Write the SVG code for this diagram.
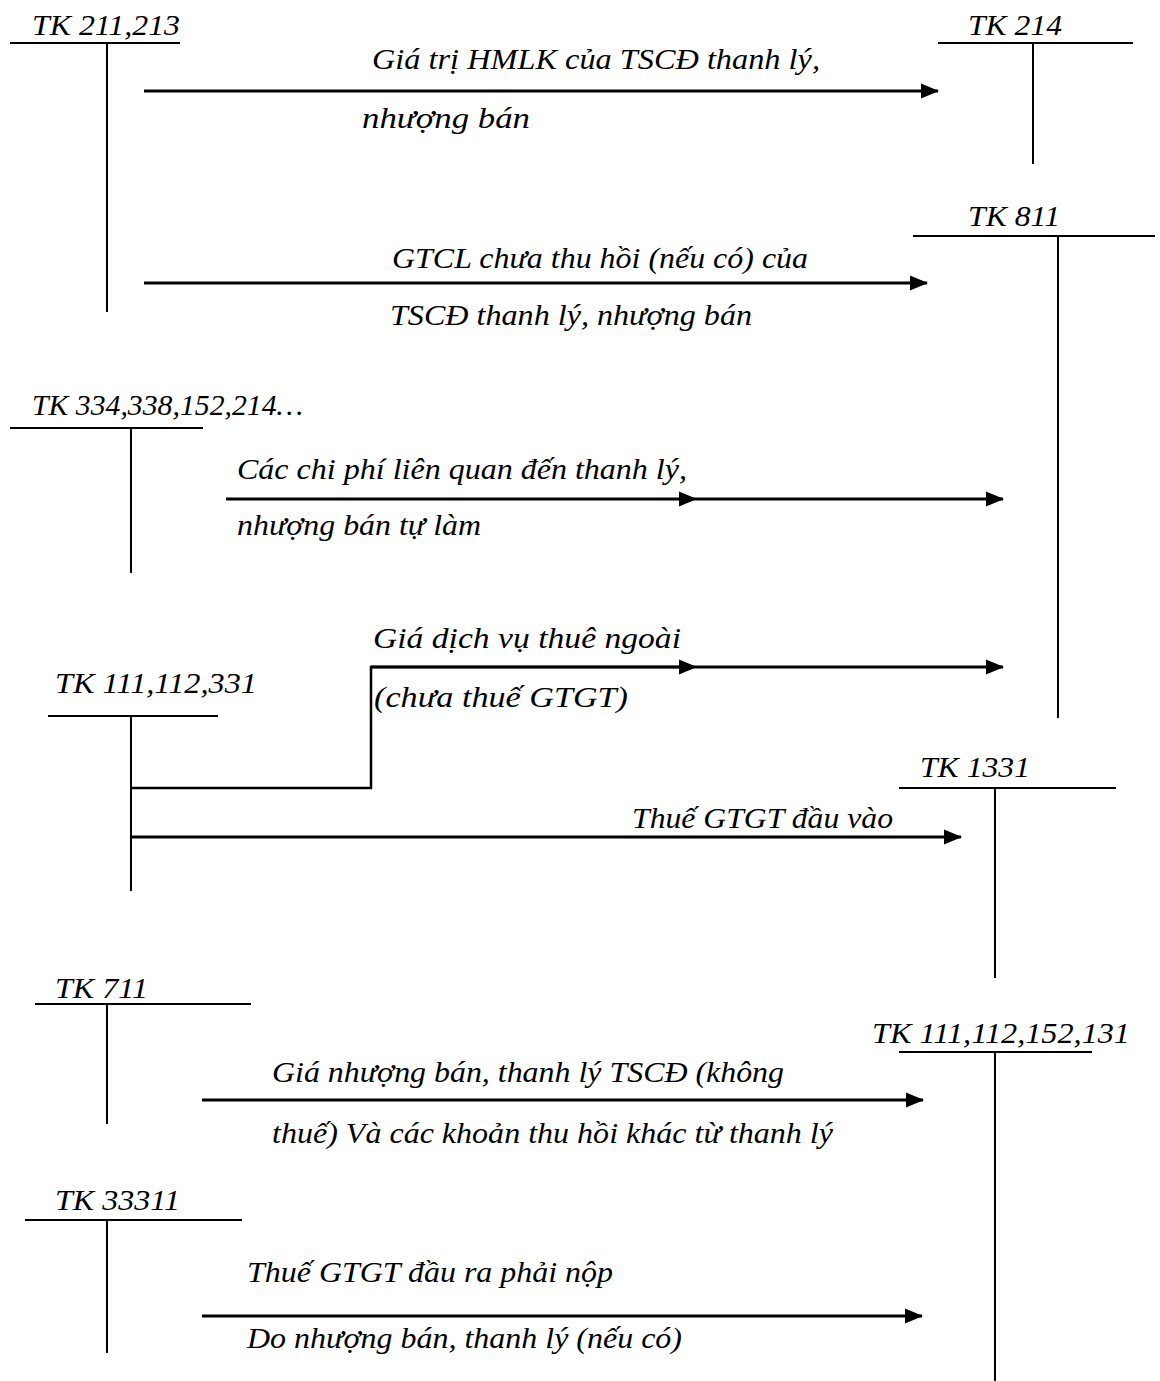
<svg xmlns="http://www.w3.org/2000/svg" width="1160" height="1381" viewBox="0 0 1160 1381">
<style>
text{font-family:"Liberation Serif","Times New Roman",serif;font-style:italic;font-size:30px;fill:#000}
.t{stroke:#000;stroke-width:2;fill:none}
.c{stroke:#000;stroke-width:2.5;fill:none}
.a{stroke:#000;stroke-width:3;fill:none;marker-end:url(#ah)}
</style>
<defs>
<marker id="ah" markerUnits="userSpaceOnUse" markerWidth="18" markerHeight="18" viewBox="0 0 18 18" refX="17" refY="9" orient="auto">
<polygon points="0,1.5 18,9 0,16.5" fill="#000"/>
</marker>
</defs>
<rect width="1160" height="1381" fill="#fff"/>
<g id="tk211">
<text x="32" y="35" textLength="148" lengthAdjust="spacingAndGlyphs">TK 211,213</text>
<line class="t" x1="10" y1="43" x2="180" y2="43"/>
<line class="t" x1="107" y1="43" x2="107" y2="312"/>
</g>
<g id="tk214">
<text x="968" y="35" textLength="94" lengthAdjust="spacingAndGlyphs">TK 214</text>
<line class="t" x1="938" y1="43" x2="1133" y2="43"/>
<line class="t" x1="1033" y1="43" x2="1033" y2="164"/>
</g>
<g id="tk811">
<text x="968" y="226" textLength="92" lengthAdjust="spacingAndGlyphs">TK 811</text>
<line class="t" x1="913" y1="236" x2="1155" y2="236"/>
<line class="t" x1="1058" y1="236" x2="1058" y2="718"/>
</g>
<g id="tk334">
<text x="32" y="415" textLength="271" lengthAdjust="spacingAndGlyphs">TK 334,338,152,214…</text>
<line class="t" x1="10" y1="428" x2="203" y2="428"/>
<line class="t" x1="131" y1="428" x2="131" y2="573"/>
</g>
<g id="tk111a">
<text x="55" y="693" textLength="202" lengthAdjust="spacingAndGlyphs">TK 111,112,331</text>
<line class="t" x1="48" y1="716" x2="218" y2="716"/>
<line class="t" x1="131" y1="716" x2="131" y2="891"/>
</g>
<g id="tk1331">
<text x="920" y="777" textLength="110" lengthAdjust="spacingAndGlyphs">TK 1331</text>
<line class="t" x1="899" y1="788" x2="1116" y2="788"/>
<line class="t" x1="995" y1="788" x2="995" y2="978"/>
</g>
<g id="tk711">
<text x="55" y="998" textLength="93" lengthAdjust="spacingAndGlyphs">TK 711</text>
<line class="t" x1="35" y1="1004" x2="251" y2="1004"/>
<line class="t" x1="107" y1="1004" x2="107" y2="1124"/>
</g>
<g id="tk111b">
<text x="872" y="1043" textLength="258" lengthAdjust="spacingAndGlyphs">TK 111,112,152,131</text>
<line class="t" x1="899" y1="1052" x2="1092" y2="1052"/>
<line class="t" x1="995" y1="1052" x2="995" y2="1381"/>
</g>
<g id="tk33311">
<text x="55" y="1210" textLength="125" lengthAdjust="spacingAndGlyphs">TK 33311</text>
<line class="t" x1="25" y1="1220" x2="242" y2="1220"/>
<line class="t" x1="107" y1="1220" x2="107" y2="1353"/>
</g>
<g id="connectors">
<line class="a" x1="144" y1="91" x2="938" y2="91"/>
<line class="a" x1="144" y1="283" x2="927" y2="283"/>
<line class="a" x1="226" y1="499" x2="696" y2="499"/>
<line class="a" x1="696" y1="499" x2="1003" y2="499"/>
<polyline class="c" points="131,788 371,788 371,667 682,667"/>
<line class="a" x1="371" y1="667" x2="696" y2="667"/>
<line class="a" x1="696" y1="667" x2="1003" y2="667"/>
<line class="a" x1="131" y1="837" x2="961" y2="837"/>
<line class="a" x1="202" y1="1100" x2="923" y2="1100"/>
<line class="a" x1="202" y1="1316" x2="922" y2="1316"/>
</g>
<g id="labels">
<text x="372" y="69" textLength="448" lengthAdjust="spacingAndGlyphs">Giá trị HMLK của TSCĐ thanh lý,</text>
<text x="362" y="128" textLength="168" lengthAdjust="spacingAndGlyphs">nhượng bán</text>
<text x="392" y="268" textLength="416" lengthAdjust="spacingAndGlyphs">GTCL chưa thu hồi (nếu có) của</text>
<text x="390" y="325" textLength="362" lengthAdjust="spacingAndGlyphs">TSCĐ thanh lý, nhượng bán</text>
<text x="237" y="479" textLength="450" lengthAdjust="spacingAndGlyphs">Các chi phí liên quan đến thanh lý,</text>
<text x="237" y="535" textLength="244" lengthAdjust="spacingAndGlyphs">nhượng bán tự làm</text>
<text x="373" y="648" textLength="308" lengthAdjust="spacingAndGlyphs">Giá dịch vụ thuê ngoài</text>
<text x="374" y="707" textLength="254" lengthAdjust="spacingAndGlyphs">(chưa thuế GTGT)</text>
<text x="632" y="828" textLength="261" lengthAdjust="spacingAndGlyphs">Thuế GTGT đầu vào</text>
<text x="272" y="1082" textLength="512" lengthAdjust="spacingAndGlyphs">Giá nhượng bán, thanh lý TSCĐ (không</text>
<text x="272" y="1143" textLength="561" lengthAdjust="spacingAndGlyphs">thuế) Và các khoản thu hồi khác từ thanh lý</text>
<text x="247" y="1282" textLength="366" lengthAdjust="spacingAndGlyphs">Thuế GTGT đầu ra phải nộp</text>
<text x="247" y="1348" textLength="435" lengthAdjust="spacingAndGlyphs">Do nhượng bán, thanh lý (nếu có)</text>
</g>
</svg>
